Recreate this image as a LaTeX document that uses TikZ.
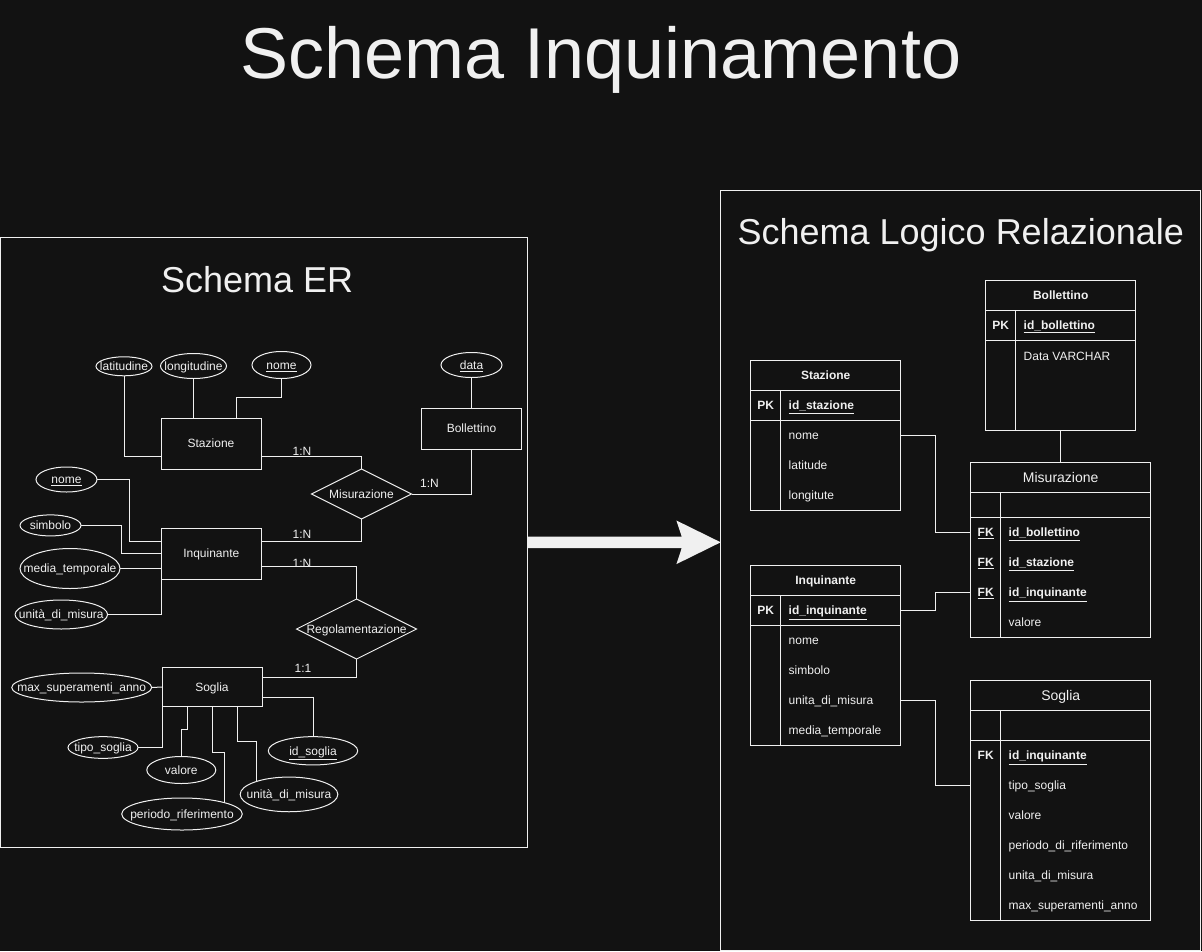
\documentclass[tikz,border=0pt]{standalone}
\usepackage{fontspec}
\setmainfont{Liberation Sans}
\newfontfamily\titlefont{Liberation Sans}
\usetikzlibrary{shapes.geometric,calc}
\definecolor{bgc}{HTML}{121212}
\definecolor{fg}{HTML}{F0F0F0}
\pgfdeclarelayer{back}
\pgfdeclarelayer{edges}
\pgfsetlayers{back,edges,main}
% zero-width centred label, so an ellipse keeps its own size
\newcommand\zb[1]{\makebox[0pt][c]{#1}}
% one table row: name, centre x, centre y, width, key x, field x, key, field
\newcommand\trow[8]{%
  \node[rowbox, minimum width=#4] (#1) at (#2,#3) {};
  \node[lbl] at (#5,#3) {#7};
  \node[fld] at (#6,#3) {#8};}

\begin{document}
\begin{tikzpicture}[x=1pt,y=-1pt,
  every node/.style={inner sep=0pt, outer sep=0pt, text=fg},
  lbl/.style={font=\fontsize{12}{14}\selectfont, text height=10.9pt, text depth=2.5pt},
  hdfourteen/.style={font=\fontsize{14}{16}\selectfont, text height=12.7pt, text depth=3pt},
  bigtitle/.style={font=\fontsize{36}{40}\selectfont, anchor=base},
  entity/.style={lbl, draw=fg, fill=bgc, line width=1pt, minimum width=100pt, minimum height=#1},
  attr/.style={lbl, ellipse, draw=fg, fill=bgc, line width=1pt},
  conn/.style={draw=fg, line width=1pt},
  shapeline/.style={draw=fg, line width=1pt},
  tframe/.style={draw=fg, line width=1pt, anchor=north west},
  rowbox/.style={minimum height=30pt},
  fld/.style={lbl, anchor=west},
  card/.style={font=\fontsize{12}{14}\selectfont, anchor=base},
]
\begin{pgfonlayer}{back}
  \fill[bgc] (0,0) rectangle (1202,951);
\end{pgfonlayer}
\useasboundingbox (0,0) rectangle (1202,951);

% ---------- titles and frames ----------
\node[font=\titlefont\fontsize{72}{80}\selectfont, anchor=base] (title) at (601,78) {Schema Inquinamento};
\node[draw=fg, line width=1pt, minimum width=527.2pt, minimum height=609.4pt, anchor=north west] (erf) at (0.5,237.6) {};
\node[draw=fg, line width=1pt, minimum width=479.8pt, minimum height=759.3pt, anchor=north west] (rlf) at (720.7,190.7) {};
\node[bigtitle] (ert) at (257.1,292) {Schema ER};
\node[bigtitle] (rlt) at (960.8,244) {Schema Logico Relazionale};

% block arrow from the ER frame to the relational frame
\path (erf.east) coordinate (a0) (erf.east -| rlf.west) coordinate (a1);
\fill[fg] ($(a0)+(0,-5.8)$) -- ($(a1)+(-39,-5.8)$) -- ($(a1)+(-44.3,-21.8)$) -- (a1)
  -- ($(a1)+(-44.3,21.8)$) -- ($(a1)+(-39,5.8)$) -- ($(a0)+(0,5.8)$) -- cycle;

% ---------- ER schema ----------
\node[entity=51pt] (sta) at (211,443.5) {Stazione};
\node[entity=41pt] (bol) at (471.5,428.5) {Bollettino};
\node[entity=51pt] (inq) at (211.3,553.5) {Inquinante};
\node[entity=39.4pt] (sog) at (212,687) {Soglia};

\node[lbl, minimum width=100pt, minimum height=50pt] (mis) at (361.5,494) {Misurazione};
\draw[shapeline] (mis.north) -- (mis.east) -- (mis.south) -- (mis.west) -- cycle;
\node[lbl, minimum width=120pt, minimum height=60pt] (reg) at (356.6,629) {Regolamentazione};
\draw[shapeline] (reg.north) -- (reg.east) -- (reg.south) -- (reg.west) -- cycle;

\node[attr, minimum width=56pt, minimum height=19pt] (lat) at (124,366.3) {\zb{latitudine}};
\node[attr, minimum width=66pt, minimum height=25pt] (lon) at (193.5,366) {\zb{longitudine}};
\node[attr, minimum width=59pt, minimum height=27pt] (snm) at (281.5,365) {\zb{\underline{nome}}};
\node[attr, minimum width=61pt, minimum height=25pt] (dat) at (471.5,365) {\zb{\underline{data}}};
\node[attr, minimum width=61pt, minimum height=25pt] (inm) at (66.5,479.5) {\zb{\underline{nome}}};
\node[attr, minimum width=61pt, minimum height=21pt] (smb) at (50.5,525.4) {\zb{simbolo}};
\node[attr, minimum width=100pt, minimum height=40pt] (mdt) at (70,568.5) {\zb{media\_temporale}};
\node[attr, minimum width=92.5pt, minimum height=29pt] (uim) at (61.3,614.5) {\zb{unità\_di\_misura}};
\node[attr, minimum width=140pt, minimum height=29pt] (mxs) at (81.7,687.5) {\zb{max\_superamenti\_anno}};
\node[attr, minimum width=70pt, minimum height=21.7pt] (tps) at (103,747.5) {\zb{tipo\_soglia}};
\node[attr, minimum width=69pt, minimum height=27pt] (val) at (181.3,770) {\zb{valore}};
\node[attr, minimum width=120.6pt, minimum height=32pt] (per) at (182,814) {\zb{periodo\_riferimento}};
\node[attr, minimum width=97.7pt, minimum height=34.7pt] (usm) at (289,794.4) {\zb{unità\_di\_misura}};
\node[attr, minimum width=89.4pt, minimum height=28.3pt] (ids) at (313,750.8) {\zb{\underline{id\_soglia}}};

\node[card] (c1) at (302,455.5) {1:N};
\node[card] (c2) at (429.5,487) {1:N};
\node[card] (c3) at (302,538.5) {1:N};
\node[card] (c4) at (302,567) {1:N};
\node[card] (c5) at (303,672.7) {1:1};

\begin{pgfonlayer}{edges}
  \draw[conn] (lat.south) |- ([yshift=-13.1pt]sta.west);
  \draw[conn] (lon.south) -- (lon.south |- sta.north);
  \draw[conn] (snm.south) -- ++(0,19) -| ([xshift=25pt]sta.north);
  \draw[conn] (dat.south) -- (bol.north);
  \draw[conn] ([yshift=-13.1pt]sta.east) -| (mis.north);
  \draw[conn] (bol.south) |- (mis.east);
  \draw[conn] (inm.east) -- ++(32.5,0) |- ([yshift=12.5pt]inq.west);
  \draw[conn] (smb.east) -- ++(40,0) |- (inq.west);
  \draw[conn] (mdt.east) -- (mdt.east -| inq.west);
  \draw[conn] (uim.east) -| (inq.south west);
  \draw[conn] ([yshift=12.5pt]inq.east) -| (mis.south);
  \draw[conn] ([yshift=-13pt]inq.east) -| (reg.north);
  \draw[conn] (reg.south) |- ([yshift=10pt]sog.east);
  \draw[conn] (mxs.east) -- (sog.west);
  \draw[conn] (tps.east) -| (sog.south west);
  \draw[conn] (val.north) -- ++(0,-27.4) -| ([xshift=25.6pt]sog.south west);
  \draw[conn] ([xshift=42pt]per.center) -- ++(0,-61.3) -| ([xshift=50pt]sog.south west);
  \draw[conn] ([xshift=-33pt]usm.center) -- ++(0,-52.7) -| ([xshift=75pt]sog.south west);
  \draw[conn] (ids.north) |- ([yshift=-10.3pt]sog.east);
\end{pgfonlayer}

% ---------- relational schema ----------
% Bollettino
\node[tframe, minimum width=150pt, minimum height=149.6pt] (tbol) at (985.7,280.7) {};
\draw[shapeline] (985.7,310.7) -- (1135.7,310.7) (985.7,340.3) -- (1135.7,340.3) (1015.7,310.7) -- (1015.7,430.3);
\node[lbl, font=\fontsize{12}{14}\selectfont\bfseries] at (1060.7,295.7) {Bollettino};
\trow{bol0}{1060.7}{325.5}{150pt}{1000.7}{1023.7}{\textbf{PK}}{\textbf{\underline{id\_bollettino}}}
\trow{bol1}{1060.7}{356}{150pt}{1000.7}{1023.7}{}{Data VARCHAR}

% Stazione
\node[tframe, minimum width=150pt, minimum height=150pt] (tsta) at (750.7,360) {};
\draw[shapeline] (750.7,390.7) -- (900.7,390.7) (750.7,420.7) -- (900.7,420.7) (780.7,390.7) -- (780.7,510);
\node[lbl, font=\fontsize{12}{14}\selectfont\bfseries] at (825.7,375.3) {Stazione};
\trow{sta0}{825.7}{405.7}{150pt}{765.7}{788.7}{\textbf{PK}}{\textbf{\underline{id\_stazione}}}
\trow{sta1}{825.7}{435.7}{150pt}{765.7}{788.7}{}{nome}
\trow{sta2}{825.7}{465.7}{150pt}{765.7}{788.7}{}{latitude}
\trow{sta3}{825.7}{495.7}{150pt}{765.7}{788.7}{}{longitute}

% Misurazione
\node[tframe, minimum width=180pt, minimum height=175pt] (tmis) at (970.7,462.7) {};
\draw[shapeline] (970.7,492.7) -- (1150.7,492.7) (970.7,517.7) -- (1150.7,517.7) (1000.7,492.7) -- (1000.7,637.7);
\node[hdfourteen] at (1060.7,477.7) {Misurazione};
\trow{mis1}{1060.7}{532.7}{180pt}{985.7}{1008.7}{\textbf{\underline{FK}}}{\textbf{\underline{id\_bollettino}}}
\trow{mis2}{1060.7}{562.7}{180pt}{985.7}{1008.7}{\textbf{\underline{FK}}}{\textbf{\underline{id\_stazione}}}
\trow{mis3}{1060.7}{592.7}{180pt}{985.7}{1008.7}{\textbf{\underline{FK}}}{\textbf{\underline{id\_inquinante}}}
\trow{mis4}{1060.7}{622.7}{180pt}{985.7}{1008.7}{}{valore}

% Inquinante
\node[tframe, minimum width=150pt, minimum height=180pt] (tinq) at (750.7,565.7) {};
\draw[shapeline] (750.7,595.7) -- (900.7,595.7) (750.7,625.7) -- (900.7,625.7) (780.7,595.7) -- (780.7,745.7);
\node[lbl, font=\fontsize{12}{14}\selectfont\bfseries] at (825.7,580.7) {Inquinante};
\trow{inq0}{825.7}{610.7}{150pt}{765.7}{788.7}{\textbf{PK}}{\textbf{\underline{id\_inquinante}}}
\trow{inq1}{825.7}{640.7}{150pt}{765.7}{788.7}{}{nome}
\trow{inq2}{825.7}{670.7}{150pt}{765.7}{788.7}{}{simbolo}
\trow{inq3}{825.7}{700.7}{150pt}{765.7}{788.7}{}{unita\_di\_misura}
\trow{inq4}{825.7}{730.7}{150pt}{765.7}{788.7}{}{media\_temporale}

% Soglia
\node[tframe, minimum width=180pt, minimum height=240pt] (tsog) at (970.7,680.7) {};
\draw[shapeline] (970.7,710.7) -- (1150.7,710.7) (970.7,740.7) -- (1150.7,740.7) (1000.7,710.7) -- (1000.7,920.7);
\node[hdfourteen] at (1060.7,695.7) {Soglia};
\trow{sog1}{1060.7}{755.7}{180pt}{985.7}{1008.7}{\textbf{FK}}{\textbf{\underline{id\_inquinante}}}
\trow{sog2}{1060.7}{785.7}{180pt}{985.7}{1008.7}{}{tipo\_soglia}
\trow{sog3}{1060.7}{815.7}{180pt}{985.7}{1008.7}{}{valore}
\trow{sog4}{1060.7}{845.7}{180pt}{985.7}{1008.7}{}{periodo\_di\_riferimento}
\trow{sog5}{1060.7}{875.7}{180pt}{985.7}{1008.7}{}{unita\_di\_misura}
\trow{sog6}{1060.7}{905.7}{180pt}{985.7}{1008.7}{}{max\_superamenti\_anno}

\begin{pgfonlayer}{edges}
  \draw[conn] (sta1.east) -- ++(34.3,0) |- (mis1.west);
  \draw[conn] (tbol.south) -- (tmis.north);
  \draw[conn] (inq0.east) -- ++(34.3,0) |- (mis3.west);
  \draw[conn] (inq3.east) -- ++(34.3,0) |- (sog2.west);
\end{pgfonlayer}
\end{tikzpicture}
\end{document}
